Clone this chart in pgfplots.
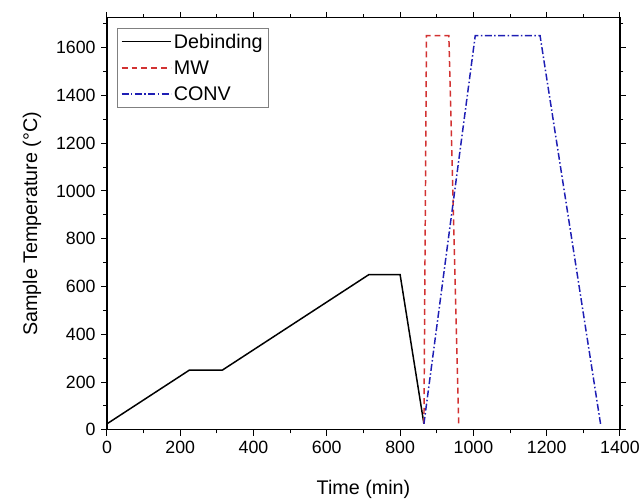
\documentclass[border=0pt]{standalone}
\usepackage{pgfplots}
\pgfplotsset{compat=1.18}
\usepackage{fontspec}
\setmainfont{Liberation Sans}
\definecolor{mwred}{RGB}{210,50,50}
\definecolor{convblue}{RGB}{30,30,180}
\begin{document}
\begin{tikzpicture}
\begin{axis}[
 name=main,
 scale only axis,
 width=518bp, height=416bp,
 xmin=0, xmax=1400, ymin=0, ymax=1725,
 xtick distance=200, ytick distance=200,
 minor x tick num=1, minor y tick num=1,
 tick align=outside,
 major tick length=6bp, minor tick length=3.5bp,
 tick style={black, line width=1bp},
 axis line style={line width=1.1bp},
 ticklabel style={font=\fontsize{18}{20}\selectfont},
 xticklabel style={yshift=-2bp},
 yticklabel style={xshift=-2bp},
 /pgf/number format/assume math mode=true,
 /pgf/number format/1000 sep={},
 xlabel={Time (min)}, ylabel={Sample Temperature (°C)},
 label style={font=\fontsize{20}{22}\selectfont},
 xlabel style={yshift=-20bp},
 ylabel style={yshift=8bp},
 legend style={at={(rel axis cs:0.019,0.976)}, anchor=north west, draw=gray,
   font=\fontsize{20}{22}\selectfont, inner sep=4bp, row sep=7bp},
 legend cell align=left,
 legend image code/.code={\draw[#1] (0bp,0bp) -- (50bp,0bp);},
]
\addplot[black, line width=1.5bp] coordinates {
 (0,25) (225,250) (315,250) (715,650) (800,650) (865,25)};
\addlegendentry{Debinding}
\addplot[mwred, line width=1.5bp, dash pattern=on 6bp off 4bp] coordinates {
 (865,25) (872,1650) (933,1650) (960,25)};
\addlegendentry{MW}
\addplot[convblue, line width=1.5bp, dash pattern=on 7bp off 2.5bp on 1.5bp off 2.5bp] coordinates {
 (865,25) (1005,1650) (1182,1650) (1347,25)};
\addlegendentry{CONV}
\end{axis}
\path (main.south west) ++(-108bp,-68bp) coordinate (bl);
\path (main.north east) ++(17bp,18bp) coordinate (tr);
\useasboundingbox (bl) rectangle (tr);
\end{tikzpicture}
\end{document}
